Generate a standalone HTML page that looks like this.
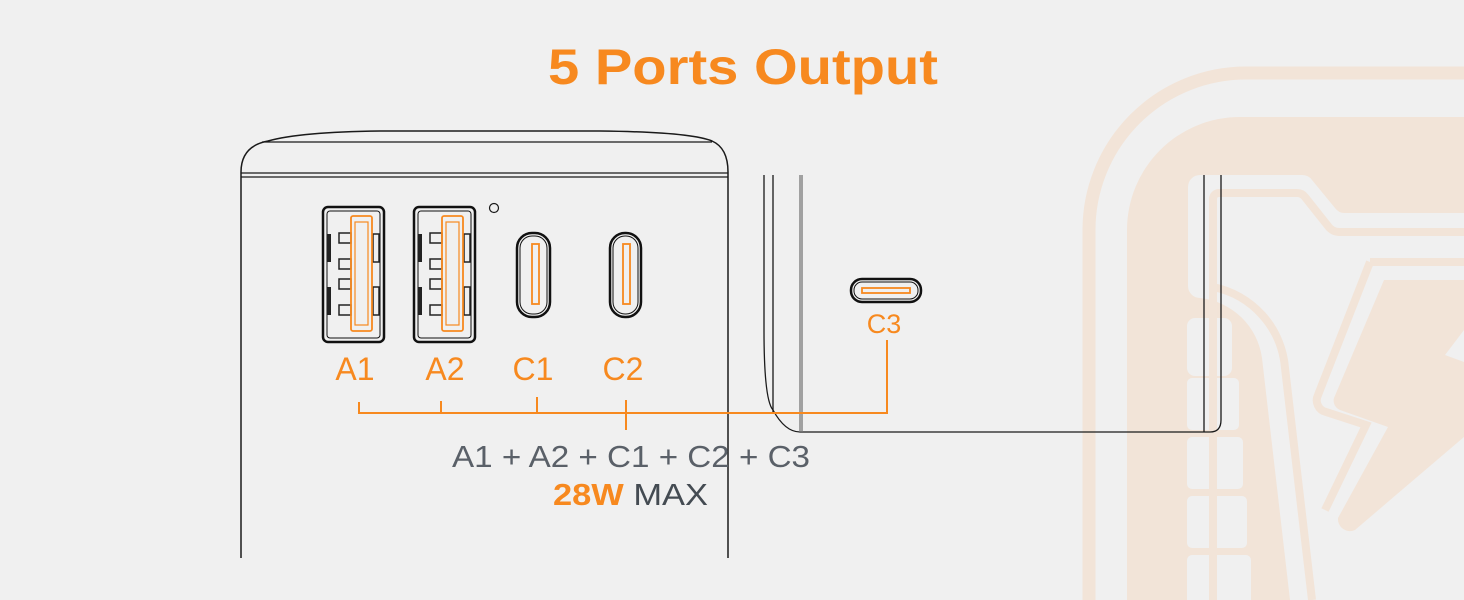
<!DOCTYPE html>
<html><head><meta charset="utf-8"><style>
html,body{margin:0;padding:0;background:#f0f0f0;}
svg{display:block}
</style></head><body>
<svg width="1464" height="600" viewBox="0 0 1464 600" xmlns="http://www.w3.org/2000/svg">
<rect width="1464" height="600" fill="#f0f0f0"/>
<!-- watermark -->
<g fill="none" stroke="#f2e4d8">
<path d="M1089 600 V230 A157 157 0 0 1 1246 73 H1464" stroke-width="13"/>
</g>
<g fill="#f2e4d8">
<path d="M1127 600 V230 A113 113 0 0 1 1240 117 H1464 V213 H1345 A12 12 0 0 1 1335 208 L1312 180 A12 12 0 0 0 1302 175 H1200 A12 12 0 0 0 1188 187 V286 A12 12 0 0 0 1200 298 A70 70 0 0 1 1262 358 L1290 600 Z"/>
<path d="M1384 280 H1464 V437 L1355 530 A12 12 0 0 1 1338 518 L1388 427 L1340 410 A10 10 0 0 1 1334 398 Z"/>
</g>
<g fill="#f0f0f0">
<rect x="1187" y="318" width="45" height="58" rx="8"/>
<rect x="1187" y="378" width="52" height="52" rx="5"/>
<rect x="1187" y="437" width="56" height="52" rx="5"/>
<rect x="1187" y="496" width="60" height="52" rx="5"/>
<rect x="1187" y="555" width="64" height="50" rx="5"/>
<polygon points="1445,355 1464,330 1464,362"/>
</g>
<g fill="none" stroke="#f2e4d8" stroke-width="8">
<path d="M1213 600 V199 A6 6 0 0 1 1219 193 H1297 A10 10 0 0 1 1305 197 L1328 226 A14 14 0 0 0 1340 232 H1464"/>
<path d="M1213 287 A90 90 0 0 1 1285 368 L1312 600"/>
<path d="M1370 262 H1464 M1370 262 L1318 395 A12 12 0 0 0 1326 412 L1366 425 L1325 510"/>
</g>
<!-- title -->
<text x="743" y="84" text-anchor="middle" font-family="Liberation Sans, sans-serif" font-weight="bold" font-size="50" fill="#f7891f" textLength="390" lengthAdjust="spacingAndGlyphs">5 Ports Output</text>
<!-- main body -->
<g fill="none" stroke="#1a1a1a" stroke-width="1.5">
<path d="M241 558 V172 Q241 146 268 141 Q300 132 380 131 H600 Q690 132 712 141 Q728 148 728 172 V558"/>
<path d="M262 142 H712" stroke-width="1.2"/>
<path d="M241 173 H728 M241 177 H728" stroke-width="1.2"/>
<circle cx="494" cy="208" r="4.5" stroke-width="1.2"/>
</g>
<!-- USB A ports -->
<g id="usb">
<rect x="323" y="207" width="61" height="135" rx="5" fill="none" stroke="#111" stroke-width="2.5"/>
<rect x="327" y="211" width="53" height="127" rx="3" fill="none" stroke="#111" stroke-width="1"/>
<rect x="327" y="234" width="4" height="28" fill="#222"/>
<rect x="327" y="287" width="4" height="28" fill="#222"/>
<rect x="373" y="234" width="6" height="28" fill="none" stroke="#222" stroke-width="1.5"/>
<rect x="373" y="287" width="6" height="28" fill="none" stroke="#222" stroke-width="1.5"/>
<g fill="none" stroke="#222" stroke-width="1.5">
<rect x="339" y="233" width="12" height="10"/><rect x="339" y="259" width="12" height="10"/>
<rect x="339" y="279" width="12" height="10"/><rect x="339" y="305" width="12" height="10"/>
</g>
<rect x="351" y="216" width="21" height="115" rx="2" fill="none" stroke="#f7891f" stroke-width="1.8"/>
<rect x="355" y="222" width="13" height="103" fill="none" stroke="#f7891f" stroke-width="1.2"/>
</g>
<use href="#usb" x="91"/>
<!-- USB C -->
<g fill="none">
<rect x="517" y="233" width="33" height="84" rx="15" stroke="#111" stroke-width="2.5"/>
<rect x="520" y="236" width="27" height="78" rx="12" stroke="#111" stroke-width="1"/>
<rect x="532" y="244" width="7" height="60" stroke="#f7891f" stroke-width="1.8"/>
<rect x="610" y="233" width="31" height="84" rx="15" stroke="#111" stroke-width="2.5"/>
<rect x="613" y="236" width="25" height="78" rx="12" stroke="#111" stroke-width="1"/>
<rect x="623" y="244" width="7" height="60" stroke="#f7891f" stroke-width="1.8"/>
<rect x="851" y="279" width="70" height="23" rx="11" stroke="#111" stroke-width="2.5"/>
<rect x="854" y="282" width="64" height="17" rx="8" stroke="#111" stroke-width="1"/>
<rect x="862" y="288" width="48" height="5" stroke="#f7891f" stroke-width="1.8"/>
</g>
<!-- side device -->
<g fill="none" stroke="#1a1a1a" stroke-width="1.3">
<path d="M764 175 V330 Q764 400 773 410 Q785 432 800 432 H1210 Q1221 432 1221 420 V175"/>
<path d="M773 175 V412"/>
<path d="M800 175 V432 M802 175 V432" stroke="#777"/>
<path d="M1204 175 V432"/>
</g>
<!-- labels -->
<g font-family="Liberation Sans, sans-serif" font-size="32" fill="#f7891f" text-anchor="middle">
<text x="355" y="380">A1</text><text x="445" y="380">A2</text>
<text x="533" y="380">C1</text><text x="623" y="380">C2</text>
<text x="884" y="333" font-size="27">C3</text>
</g>
<g stroke="#f7891f" stroke-width="2" fill="none">
<path d="M359 402 V413 H887 V340"/>
<path d="M441 401 V413 M537 397 V413 M626 400 V430"/>
</g>
<text x="452" y="467" font-family="Liberation Sans, sans-serif" font-size="31" fill="#5a6068" textLength="358" lengthAdjust="spacingAndGlyphs">A1 +  A2 + C1 + C2 + C3</text>
<text x="553" y="505" font-family="Liberation Sans, sans-serif" font-size="31" textLength="155" lengthAdjust="spacingAndGlyphs"><tspan font-weight="bold" fill="#f7891f">28W</tspan><tspan fill="#444b52"> MAX</tspan></text>
</svg>
</body></html>
